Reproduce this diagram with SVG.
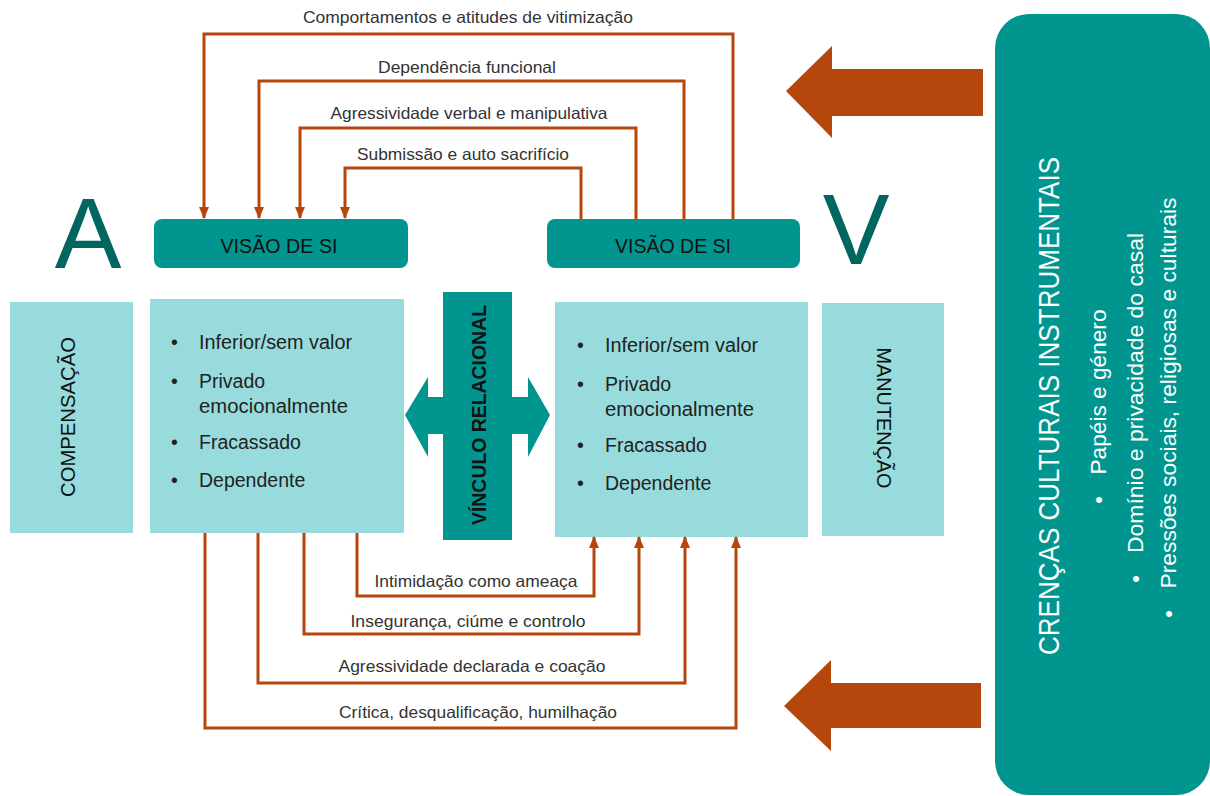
<svg xmlns="http://www.w3.org/2000/svg" width="1210" height="796" viewBox="0 0 1210 796">
<style>
.lt{fill:#97dbdc}
.tl{fill:#00968f}
.or{fill:#b5470d}
.con{fill:none;stroke:#b5470d;stroke-width:3}
.lbl{font-family:"Liberation Sans",Arial,sans-serif;font-size:16.5px;fill:#333;text-anchor:middle}
.li{font-family:"Liberation Sans",Arial,sans-serif;font-size:19.5px;fill:#222}
.hd{font-family:"Liberation Sans",Arial,sans-serif;font-size:21px;fill:#111;text-anchor:middle}
.big{font-family:"Liberation Sans",Arial,sans-serif;font-size:100px;fill:#00665f;text-anchor:middle}
.wt{font-family:"Liberation Sans",Arial,sans-serif;fill:#fff;text-anchor:middle}
</style>
<defs>
<marker id="ah" viewBox="0 0 12 10" refX="11" refY="5" markerWidth="12" markerHeight="10" markerUnits="userSpaceOnUse" orient="auto">
<path d="M0,0 L12,5 L0,10 z" fill="#b5470d"/>
</marker>
</defs>

<g id="letterA"><text class="big" x="88" y="268">A</text></g>
<g id="letterV"><text class="big" x="856" y="264">V</text></g>

<g id="visao-left">
<rect class="tl" x="154" y="219" width="254" height="49" rx="8"/>
<text class="hd" x="279" y="253" textLength="117" lengthAdjust="spacingAndGlyphs">VISÃO DE SI</text>
</g>
<g id="visao-right">
<rect class="tl" x="547" y="219" width="253" height="49" rx="8"/>
<text class="hd" x="673" y="253" textLength="116" lengthAdjust="spacingAndGlyphs">VISÃO DE SI</text>
</g>

<g id="compensacao">
<rect class="lt" x="10" y="302" width="123" height="231"/>
<text class="hd" transform="translate(75,417) rotate(-90)" x="0" y="0" textLength="160" lengthAdjust="spacingAndGlyphs">COMPENSAÇÃO</text>
</g>

<g id="lista-left">
<rect class="lt" x="150" y="299" width="254" height="234"/>
<text class="li" x="171" y="349">•</text>
<text class="li" x="199" y="349" textLength="153" lengthAdjust="spacingAndGlyphs">Inferior/sem valor</text>
<text class="li" x="171" y="388">•</text>
<text class="li" x="199" y="388">Privado</text>
<text class="li" x="199" y="413" textLength="149" lengthAdjust="spacingAndGlyphs">emocionalmente</text>
<text class="li" x="171" y="449">•</text>
<text class="li" x="199" y="449">Fracassado</text>
<text class="li" x="171" y="487">•</text>
<text class="li" x="199" y="487">Dependente</text>
</g>

<g id="vinculo">
<path class="tl" d="M405,415 L428,377 L428,397 L528,397 L528,377 L550,415 L528,457 L528,434 L428,434 L428,457 z"/>
<rect class="tl" x="443" y="292" width="69" height="248"/>
<text class="hd" style="font-weight:bold" transform="translate(486,415) rotate(-90)" x="0" y="0" textLength="220" lengthAdjust="spacingAndGlyphs">VÍNCULO RELACIONAL</text>
</g>

<g id="lista-right">
<rect class="lt" x="555" y="302" width="253" height="235"/>
<text class="li" x="577" y="352">•</text>
<text class="li" x="605" y="352" textLength="153" lengthAdjust="spacingAndGlyphs">Inferior/sem valor</text>
<text class="li" x="577" y="391">•</text>
<text class="li" x="605" y="391">Privado</text>
<text class="li" x="605" y="416" textLength="149" lengthAdjust="spacingAndGlyphs">emocionalmente</text>
<text class="li" x="577" y="452">•</text>
<text class="li" x="605" y="452">Fracassado</text>
<text class="li" x="577" y="490">•</text>
<text class="li" x="605" y="490">Dependente</text>
</g>

<g id="manutencao">
<rect class="lt" x="822" y="303" width="122" height="233"/>
<text class="hd" transform="translate(877,418) rotate(90)" x="0" y="0" textLength="141" lengthAdjust="spacingAndGlyphs">MANUTENÇÃO</text>
</g>

<g id="crencas">
<rect class="tl" x="995" y="14" width="215" height="781" rx="34"/>
<text class="wt" style="font-size:30px" transform="translate(1059,406) rotate(-90)" x="0" y="0" textLength="498" lengthAdjust="spacingAndGlyphs">CRENÇAS CULTURAIS INSTRUMENTAIS</text>
<text class="wt" style="font-size:22px" transform="translate(1106,392) rotate(-90)" x="0" y="0" textLength="165" lengthAdjust="spacingAndGlyphs">Papéis e género</text>
<text class="wt" style="font-size:22px" transform="translate(1106,500) rotate(-90)" x="0" y="0">•</text>
<text class="wt" style="font-size:22px" transform="translate(1143,393) rotate(-90)" x="0" y="0" textLength="320" lengthAdjust="spacingAndGlyphs">Domínio e privacidade do casal</text>
<text class="wt" style="font-size:22px" transform="translate(1143,579) rotate(-90)" x="0" y="0">•</text>
<text class="wt" style="font-size:22px" transform="translate(1176,393) rotate(-90)" x="0" y="0" textLength="391" lengthAdjust="spacingAndGlyphs">Pressões sociais, religiosas e culturais</text>
<text class="wt" style="font-size:22px" transform="translate(1176,614) rotate(-90)" x="0" y="0">•</text>
</g>

<g id="seta-cima">
<path class="or" d="M786,91 L832,46 L832,69 L983,69 L983,116 L832,116 L832,138 z"/>
</g>
<g id="seta-baixo">
<path class="or" d="M784,706 L831,660 L831,683 L981,683 L981,728 L831,728 L831,751 z"/>
</g>

<g id="connectors">
<path class="con" d="M733,219 V34 H204 V218" marker-end="url(#ah)"/>
<path class="con" d="M684,219 V81 H259 V218" marker-end="url(#ah)"/>
<path class="con" d="M636,219 V128 H300 V218" marker-end="url(#ah)"/>
<path class="con" d="M581,219 V168 H345 V218" marker-end="url(#ah)"/>
<path class="con" d="M357,533 V596 H594 V537" marker-end="url(#ah)"/>
<path class="con" d="M304,533 V634 H639 V537" marker-end="url(#ah)"/>
<path class="con" d="M258,533 V683 H685 V537" marker-end="url(#ah)"/>
<path class="con" d="M205,533 V728 H736 V537" marker-end="url(#ah)"/>
<text class="lbl" x="468" y="23" textLength="330" lengthAdjust="spacingAndGlyphs">Comportamentos e atitudes de vitimização</text>
<text class="lbl" x="467" y="73" textLength="178" lengthAdjust="spacingAndGlyphs">Dependência funcional</text>
<text class="lbl" x="469" y="119" textLength="277" lengthAdjust="spacingAndGlyphs">Agressividade verbal e manipulativa</text>
<text class="lbl" x="463" y="160" textLength="212" lengthAdjust="spacingAndGlyphs">Submissão e auto sacrifício</text>
<text class="lbl" x="476" y="587" textLength="203" lengthAdjust="spacingAndGlyphs">Intimidação como ameaça</text>
<text class="lbl" x="468" y="627" textLength="235" lengthAdjust="spacingAndGlyphs">Insegurança, ciúme e controlo</text>
<text class="lbl" x="472" y="672" textLength="267" lengthAdjust="spacingAndGlyphs">Agressividade declarada e coação</text>
<text class="lbl" x="478" y="718" textLength="278" lengthAdjust="spacingAndGlyphs">Crítica, desqualificação, humilhação</text>
</g>
</svg>
